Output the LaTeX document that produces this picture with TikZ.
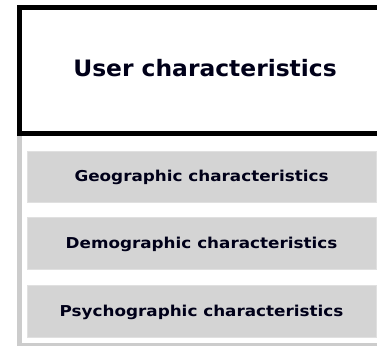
\documentclass[tikz,border=0pt]{standalone}
\usepackage{fontspec}
\setmainfont{DejaVu Sans}
\newfontfamily\headfont[FakeStretch=1.035]{DejaVu Sans}
\newfontfamily\itemfont[FakeStretch=1.12]{DejaVu Sans}
\begin{document}
\begin{tikzpicture}[x=1pt,y=1pt,
  headbox/.style={draw=black, line width=5pt, fill=white, inner sep=0pt,
    font=\headfont\bfseries\fontsize{22.6}{26}\selectfont, text=black!90!blue,
    text height=16.5pt, text depth=6.4pt},
  panelbox/.style={draw=black!20, line width=5pt, fill=white, inner sep=0pt},
  itembox/.style={fill=black!17, draw=black!12, line width=0.6pt, inner sep=0pt,
    minimum width=349pt, font=\itemfont\bfseries\fontsize{15}{18}\selectfont,
    text=black!90!blue, text height=11pt, text depth=0pt}]
  \useasboundingbox (0,0) rectangle (377,345);
  \clip (0,0) rectangle (377,345);
  % lower panel holding the three characteristic groups
  \node[panelbox, anchor=north west, minimum width=420pt, minimum height=212pt]
    (panel) at (16.5,214.5) {};
  % heading box, running past the right edge
  \node[headbox, anchor=north west, minimum width=372pt, minimum height=126pt]
    (head) at (16.5,339.5) {User characteristics};
  % characteristic groups
  \node[itembox, minimum height=51pt] (geo) at (201.5,168.5) {Geographic characteristics};
  \node[itembox, minimum height=52pt] (demo) at (201.5,102) {Demographic characteristics};
  \node[itembox, minimum height=52pt] (psycho) at (201.5,34) {Psychographic characteristics};
\end{tikzpicture}
\end{document}
